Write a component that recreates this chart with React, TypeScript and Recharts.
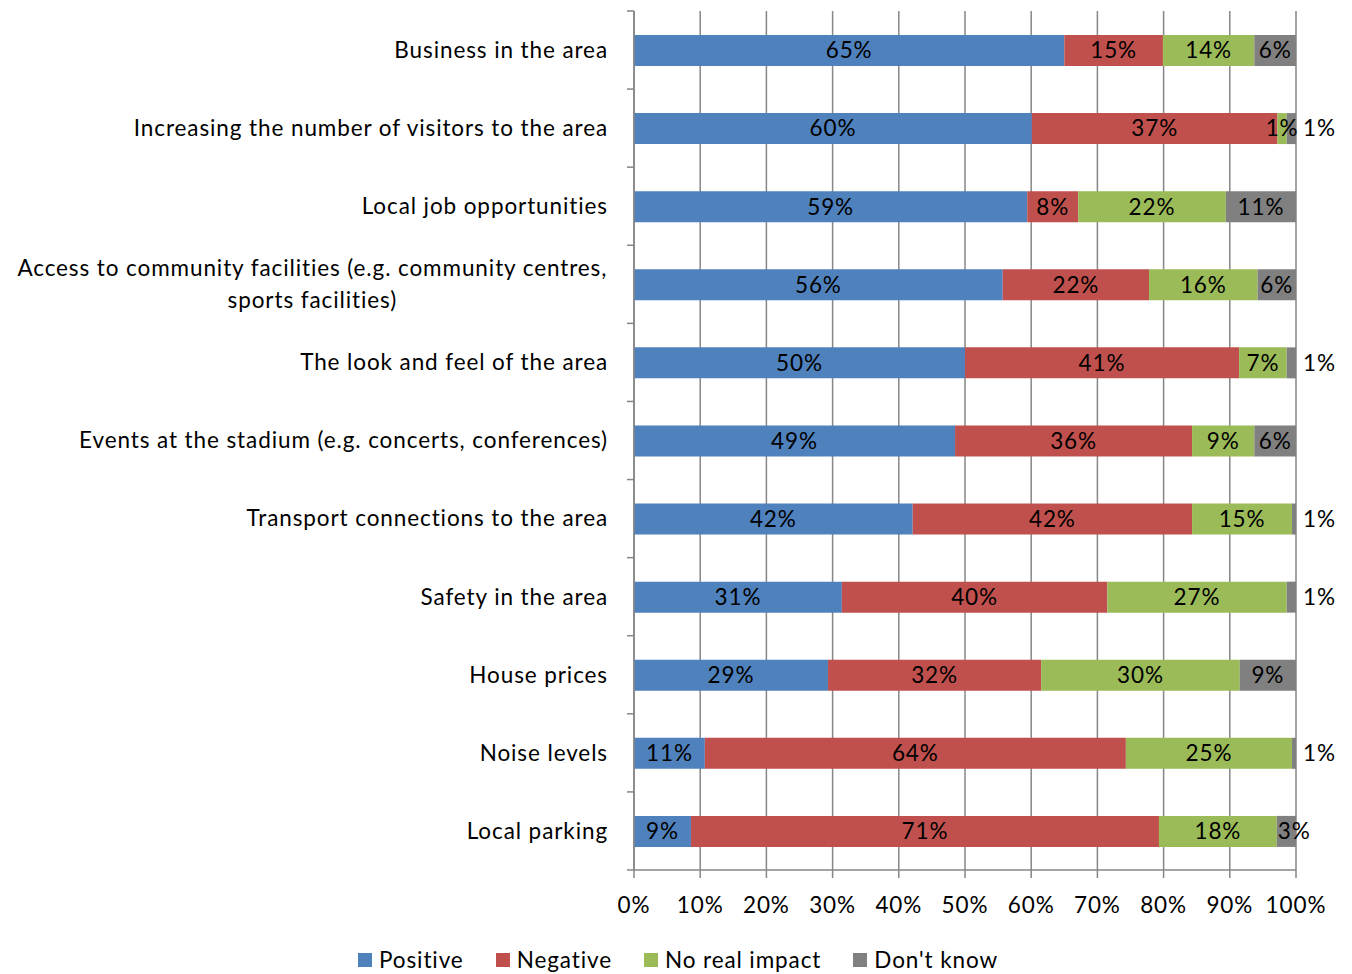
import React from 'react'
import {
  BarChart,
  Bar,
  XAxis,
  YAxis,
  CartesianGrid,
  Legend,
  LabelList,
} from 'recharts'

const categories = [
  'Business in the area',
  'Increasing the number of visitors to the area',
  'Local job opportunities',
  'Access to community facilities (e.g. community centres, sports facilities)',
  'The look and feel of the area',
  'Events at the stadium (e.g. concerts, conferences)',
  'Transport connections to the area',
  'Safety in the area',
  'House prices',
  'Noise levels',
  'Local parking',
]

const positive = [65.0, 60.1, 59.4, 55.7, 50.0, 48.5, 42.1, 31.4, 29.3, 10.7, 8.6]
const negative = [14.9, 37.1, 7.7, 22.1, 41.4, 35.8, 42.2, 40.1, 32.2, 63.6, 70.7]
const noImpact = [13.8, 1.4, 22.3, 16.4, 7.2, 9.4, 15.1, 27.1, 30.0, 25.1, 17.8]
const dontKnow = [6.3, 1.4, 10.6, 5.8, 1.4, 6.3, 0.6, 1.4, 8.5, 0.6, 2.9]

const xTicks = [0, 10, 20, 30, 40, 50, 60, 70, 80, 90, 100]

const series = [
  { key: 'positive', name: 'Positive', color: '#4F81BD' },
  { key: 'negative', name: 'Negative', color: '#C0504D' },
  { key: 'noImpact', name: 'No real impact', color: '#9BBB59' },
  { key: 'dontKnow', name: "Don't know", color: '#808080' },
]

const data = categories.map((name, i) => ({
  name,
  positive: positive[i],
  negative: negative[i],
  noImpact: noImpact[i],
  dontKnow: dontKnow[i],
}))

const FONT = 'Lato, "Liberation Sans", sans-serif'
const FONT_SIZE = 22.5
const LS = 0.9
const GRID = '#868686'
const CHART_W = 1352
const CHART_H = 974
const MARGIN = { top: 11, right: 56, left: 0, bottom: 4 }
const X_AXIS_H = 60
const LEGEND_H = 40
const PLOT_H = CHART_H - MARGIN.top - MARGIN.bottom - X_AXIS_H - LEGEND_H

let ctx: CanvasRenderingContext2D | null = null
function textWidth(s: string) {
  if (!ctx) ctx = document.createElement('canvas').getContext('2d')
  if (!ctx) return s.length * FONT_SIZE * 0.5
  ctx.font = `${FONT_SIZE}px Lato`
  return ctx.measureText(s).width + s.length * LS
}

function wrap(s: string, maxW: number) {
  const words = s.split(' ')
  const lines: string[] = []
  let cur = ''
  for (const w of words) {
    const next = cur ? cur + ' ' + w : w
    if (cur && textWidth(next) > maxW) {
      lines.push(cur)
      cur = w
    } else {
      cur = next
    }
  }
  if (cur) lines.push(cur)
  return lines
}

function CategoryTick(props: any) {
  const { x, y, payload, index } = props
  const band = PLOT_H / categories.length
  const right = x - 26
  const lines = wrap(String(payload.value), 610)
  const lineH = 32
  let textEl
  if (lines.length === 1) {
    textEl = (
      <text x={right} y={y} dy="0.35em" textAnchor="end" fill="#000" fontSize={FONT_SIZE} fontFamily={FONT}>
        {lines[0]}
      </text>
    )
  } else {
    const cx = right - textWidth(lines[0]) / 2
    textEl = (
      <text x={cx} y={y} textAnchor="middle" fill="#000" fontSize={FONT_SIZE} fontFamily={FONT}>
        {lines.map((l, i) => (
          <tspan key={i} x={cx} y={y + (i - (lines.length - 1) / 2) * lineH} dy="0.35em">
            {l}
          </tspan>
        ))}
      </text>
    )
  }
  return (
    <g>
      <line x1={x - 7} x2={x} y1={y - band / 2} y2={y - band / 2} stroke={GRID} strokeWidth={1.5} />
      {index === categories.length - 1 && (
        <line x1={x - 7} x2={x} y1={y + band / 2} y2={y + band / 2} stroke={GRID} strokeWidth={1.5} />
      )}
      {textEl}
    </g>
  )
}

function makeLabel(key: string) {
  return (props: any) => {
    const { x, y, width, height, value } = props
    if (value == null) return null
    const txt = `${Math.round(Number(value))}%`
    const tw = textWidth(txt)
    const cy = y + height / 2
    let tx = x + width / 2
    let anchor: 'middle' | 'start' = 'middle'
    if (key === 'dontKnow' && tw + 4 > width) {
      anchor = 'start'
      tx = width < 12 ? x + width + 7 : x + 1
    }
    return (
      <text x={tx} y={cy} dy="0.35em" textAnchor={anchor} fill="#000" fontSize={FONT_SIZE} fontFamily={FONT}>
        {txt}
      </text>
    )
  }
}

function LegendContent() {
  return (
    <div
      style={{
        height: LEGEND_H,
        display: 'flex',
        justifyContent: 'center',
        alignItems: 'flex-end',
        fontFamily: FONT,
        fontSize: FONT_SIZE,
        letterSpacing: LS,
        color: '#000',
        transform: 'translate(30px, 3px)',
      }}
    >
      {series.map((s) => (
        <div key={s.key} style={{ display: 'flex', alignItems: 'center', margin: '0 16px', lineHeight: '26px' }}>
          <span style={{ width: 14, height: 14, background: s.color, display: 'inline-block', marginRight: 7 }} />
          <span>{s.name}</span>
        </div>
      ))}
    </div>
  )
}

export default function App() {
  return (
    <div style={{ fontFamily: FONT }}>
      <style>{`body{margin:0} .recharts-wrapper svg text{letter-spacing:${LS}px}`}</style>
      <BarChart
        width={CHART_W}
        height={CHART_H}
        data={data}
        layout="vertical"
        margin={MARGIN}
        barSize={31}
      >
        <CartesianGrid horizontal={false} vertical stroke={GRID} strokeWidth={1.5} />
        <XAxis
          type="number"
          domain={[0, 100]}
          ticks={xTicks}
          interval={0}
          height={X_AXIS_H}
          tickFormatter={(v: number) => `${v}%`}
          stroke={GRID}
          strokeWidth={1.5}
          tickSize={8}
          tickMargin={19}
          tick={{ fill: '#000', fontSize: FONT_SIZE, fontFamily: FONT }}
          allowDataOverflow
        />
        <YAxis
          type="category"
          dataKey="name"
          width={634}
          interval={0}
          tickLine={false}
          tickSize={0}
          tickMargin={0}
          stroke={GRID}
          strokeWidth={1.5}
          tick={<CategoryTick />}
        />
        <Legend verticalAlign="bottom" content={<LegendContent />} />
        {series.map((s) => (
          <Bar key={s.key} dataKey={s.key} name={s.name} stackId="a" fill={s.color} isAnimationActive={false}>
            <LabelList dataKey={s.key} content={makeLabel(s.key)} />
          </Bar>
        ))}
      </BarChart>
    </div>
  )
}
